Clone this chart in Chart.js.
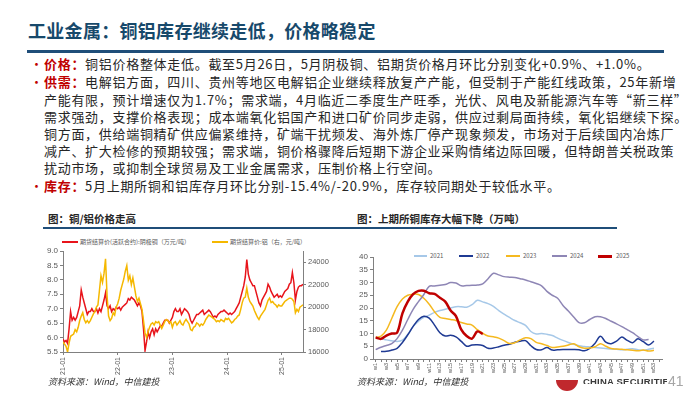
<!DOCTYPE html>
<html lang="zh-CN">
<head>
<meta charset="UTF-8">
<meta name="viewport" content="width=device-width, initial-scale=1.0">
<title>工业金属：铜铝库存继续走低，价格略稳定</title>
<script src="https://cdn.jsdelivr.net/npm/chart.js@4.4.1/dist/chart.umd.min.js"></script>
<style>
  html,body{margin:0;padding:0;background:#fff}
  body{position:relative;width:700px;height:394px;overflow:hidden;font-family:"Noto Sans CJK SC","Noto Sans",sans-serif;color:#262626}
  .abs{position:absolute;white-space:nowrap}
  #title{left:28px;top:17px;font-size:18px;font-weight:bold;color:#17496b;letter-spacing:0.3px}
  #rule{position:absolute;left:27px;top:50px;width:637px;height:3px;background:#1f4e79}
  .ln{position:absolute;left:44px;font-size:13px;line-height:17px;letter-spacing:0.7px;white-space:nowrap}
  .dot{position:absolute;left:30px;color:#c00000;font-size:13px;line-height:17px}
  .lab{color:#c00000;font-weight:bold}
  .ct{position:absolute;top:211px;font-size:10.5px;font-weight:bold;color:#262626;white-space:nowrap;line-height:15px}
  #rule2{position:absolute;left:43px;top:227px;width:574px;height:1.5px;background:#1f4e79}
  .leg{position:absolute;font-size:6px;color:#595959;white-space:nowrap;line-height:8px}
  .sw{position:absolute;height:2px}
  .src{position:absolute;top:375px;font-size:9px;font-style:italic;color:#333;white-space:nowrap;line-height:13px}
  canvas{position:absolute}
  #logo{position:absolute;left:556px;top:380px;width:22px;height:11px;background:#c0282d;border-radius:0 0 11px 11px}
  #brand{position:absolute;left:583px;top:377px;height:7px;overflow:hidden;width:84px}
  #brand span{position:absolute;top:-1px;left:0;font-family:"Liberation Sans",sans-serif;font-weight:bold;font-size:9.5px;color:#3a3a3a;white-space:nowrap;letter-spacing:0.2px}
  #page{position:absolute;left:668px;top:373px;font-family:"Liberation Sans",sans-serif;font-size:14px;color:#a6a6a6}
</style>
</head>
<body>
<div id="title" class="abs">工业金属：铜铝库存继续走低，价格略稳定</div>
<div id="rule"></div>

<div class="dot" style="top:55px">•</div>
<div class="ln" style="top:55px"><span class="lab">价格：</span>铜铝价格整体走低。截至5月26日，5月阴极铜、铝期货价格月环比分别变化+0.9%、+1.0%。</div>
<div class="dot" style="top:73px">•</div>
<div class="ln" style="top:73px"><span class="lab">供需：</span>电解铝方面，四川、贵州等地区电解铝企业继续释放复产产能，但受制于产能红线政策，25年新增</div>
<div class="ln" style="top:91px">产能有限，预计增速仅为1.7%；需求端，4月临近二季度生产旺季，光伏、风电及新能源汽车等“新三样”</div>
<div class="ln" style="top:108px">需求强劲，支撑价格表现；成本端氧化铝国产和进口矿价同步走弱，供应过剩局面持续，氧化铝继续下探。</div>
<div class="ln" style="top:125px">铜方面，供给端铜精矿供应偏紧维持，矿端干扰频发、海外炼厂停产现象频发，市场对于后续国内冶炼厂</div>
<div class="ln" style="top:142px">减产、扩大检修的预期较强；需求端，铜价格骤降后短期下游企业采购情绪边际回暖，但特朗普关税政策</div>
<div class="ln" style="top:159px">扰动市场，或抑制全球贸易及工业金属需求，压制价格上行空间。</div>
<div class="dot" style="top:177px">•</div>
<div class="ln" style="top:177px"><span class="lab">库存：</span>5月上期所铜和铝库存月环比分别-15.4%/-20.9%，库存较同期处于较低水平。</div>

<div class="ct" style="left:48px">图：铜/铝价格走高</div>
<div class="ct" style="left:357px">图：上期所铜库存大幅下降（万吨）</div>
<div id="rule2"></div>

<div class="sw" style="left:62px;top:241px;width:16px;background:#e8141b"></div>
<div class="leg" style="left:80px;top:238px">期货结算价(活跃合约):阴极铜（万元/吨）</div>
<div class="sw" style="left:212px;top:241px;width:16px;background:#f5b800"></div>
<div class="leg" style="left:230px;top:238px">期货结算价:铝（右，元/吨）</div>

<div class="sw" style="left:414px;top:255px;width:13px;background:#a6c8e8"></div>
<div class="leg" style="left:430px;top:252px">2021</div>
<div class="sw" style="left:459px;top:255px;width:14px;background:#1f3a93"></div>
<div class="leg" style="left:476px;top:252px">2022</div>
<div class="sw" style="left:506px;top:255px;width:14px;background:#f5b920"></div>
<div class="leg" style="left:523px;top:252px">2023</div>
<div class="sw" style="left:552px;top:255px;width:15px;background:#8e86b5"></div>
<div class="leg" style="left:570px;top:252px">2024</div>
<div class="sw" style="left:598px;top:254.5px;width:14px;height:3px;background:#c00000"></div>
<div class="leg" style="left:616px;top:252px">2025</div>

<canvas id="priceChart" width="320" height="150" style="left:20px;top:236px;width:320px;height:150px"></canvas>
<canvas id="stockChart" width="340" height="146" style="left:340px;top:240px;width:340px;height:146px"></canvas>

<div class="src" style="left:48px">资料来源：Wind，中信建投</div>
<div class="src" style="left:357px">资料来源：Wind，中信建投</div>
<div id="logo"></div>
<div id="brand"><span>CHINA SECURITIES</span></div>
<div id="page">41</div>

<script>
// month ticks on the price chart (0 = 2021-01)
const yearTicks = [0, 12, 24, 36, 48];
const yearLabels = ['21-01', '22-01', '23-01', '24-01', '25-01'];

// copper, wan yuan/t, three readings per month from 2021-01 to 2025-05
const cuPrice = [
  5.95,5.85,5.9, 5.8,6.3,6.9, 6.6,6.7,6.6, 6.7,6.9,7.1, 7.65,7.4,7.2, 7.0,6.8,6.9,
  6.9,7.0,6.9, 6.9,7.0,6.85, 7.0,6.9,7.1, 7.3,7.55,7.1, 7.0,7.1,6.9, 7.0,6.95,7.05,
  7.0,7.05,6.95, 7.05,7.1,7.15, 7.2,7.35,7.3, 7.4,7.35,7.3, 7.2,7.1,7.2, 7.1,6.9,6.3,
  5.55,5.85,6.2, 6.0,6.2,6.3, 6.1,6.3,6.2, 6.3,6.4,6.4, 6.5,6.6,6.6, 6.6,6.5,6.6,
  6.7,6.9,7.0, 6.9,6.9,7.0, 6.8,6.9,7.0, 6.95,6.9,6.8, 6.6,6.5,6.6, 6.7,6.8,6.8,
  6.85,6.9,6.95, 6.8,6.85,6.9, 6.95,6.9,6.8, 6.7,6.75,6.7, 6.8,6.85,6.9, 6.9,6.95,6.9,
  6.85,6.8,6.85, 6.8,6.85,6.9, 7.0,7.1,7.2, 7.4,7.6,7.8, 8.1,8.7,8.2, 8.0,7.9,7.8,
  7.8,7.6,7.4, 7.2,7.1,7.3, 7.4,7.5,7.6, 7.85,7.75,7.6, 7.5,7.4,7.45, 7.5,7.4,7.45,
  7.4,7.5,7.6, 7.65,7.7,7.85, 7.9,8.25,7.9, 7.3,7.6,7.75, 7.8,7.8,7.85
];
// aluminium, yuan/t, same dates (right axis)
const alPrice = [
  16900,16700,16500, 16000,16800,17400, 17500,17600,18000, 17800,18200,18800, 19200,19500,18900, 18600,18800,18600,
  18800,19100,19400, 19600,20000,20200, 21500,22800,22200, 23000,24300,21000, 19200,18800,19000, 19500,19300,20000,
  20300,20800,21500, 22000,22500,23200, 23700,22400,22800, 22000,22600,21800, 21000,20500,20800, 20300,19800,18800,
  17700,17300,17800, 18200,18500,18600, 18400,18700,18600, 18700,18400,18100, 18400,18700,18900, 18800,18600,18700,
  18200,18600,18700, 18400,18600,18800, 18500,18400,18700, 18900,18700,18500, 18000,17900,18200, 18300,18600,18500,
  18300,18500,18400, 18600,18900,19100, 19300,19200,19100, 19000,18900,18700, 18800,18700,18900, 18800,18700,19000,
  18900,19000,18800, 18600,18700,18900, 19000,19200,19300, 19800,20400,20800, 20900,21700,20900, 20500,20300,20100,
  19700,19400,19100, 18900,19200,19400, 19600,19800,20200, 20600,20800,20400, 20500,20300,20200, 20000,20200,20100,
  20100,20300,20500, 20600,20700,20800, 20800,20700,20500, 19500,19800,19600, 20000,20100,20200
];

// SHFE copper stocks by week, 10k t
const weeks = Array.from({length: 54}, (_, i) => 'w' + (i + 1));
const stock2021 = [8.3,8.0,7.5,7.2,6.9,7.4,9.6,12.8,14.8,16.3,17.2,18.3,19,19.5,20,20.5,20.5,20.3,21.3,23,
  22.4,21.7,20.6,19,17.6,16.3,15.1,14.2,13.2,10.8,9.8,10,9.7,9.2,8.2,7.3,6.5,5.8,5.2,4.9,
  4.7,4.5,4.3,4.1,3.9,3.8,3.6,3.8,4.0,3.6,3.4,3.8,4.2];
const stock2022 = [null,2.9,3.0,3.5,4.2,6.5,9.5,12.8,15.5,16.8,16.0,13.3,10.3,9.0,9.3,8.7,6.9,5.0,5.5,5.6,
  5.3,4.2,4.3,4.8,5.4,5.8,6.6,7.0,7.2,5.2,3.7,3.6,4.5,3.5,3.6,3.7,3.7,3.7,3.6,3.2,
  4.2,6.2,8.9,6.6,6.0,7.0,8.6,7.3,6.4,7.9,6.8,5.5,7.0];
const stock2023 = [8.4,9.0,11.3,15.9,20.5,23.5,25.0,25.4,25.3,23.8,21.5,18.5,16.3,15.9,15.5,15.1,14.3,13.7,13.3,11.5,
  10.1,9.0,8.7,8.2,7.2,6.1,6.4,7.5,8.3,8.0,6.5,6.0,5.3,4.5,4.7,5.0,5.5,6.0,4.8,4.2,
  4.3,4.8,6.0,5.0,4.1,3.9,3.8,3.6,3.4,3.2,3.5,3.1,3.4];
const stock2024 = [3.7,4.6,5.3,6.0,8.0,11.3,15.5,19.5,22.5,25.3,28.5,28.6,28.9,29.2,30.0,29.8,28.7,28.8,28.9,29.0,
  29.5,31.5,33.6,33.0,32.3,32.1,32.0,31.5,31.0,30.3,29.6,28.7,26.5,25.0,23.8,21.0,18.8,16.5,14.3,14.2,
  15.5,16.6,16.6,15.9,14.8,13.8,12.7,11.5,10.3,8.8,7.5,7.6];
const stock2025 = [8.4,7.9,9.2,10.0,10.3,17.9,22.5,25.4,26.7,26.8,25.8,25.5,24.0,22.5,19.0,16.8,11.5,9.0,8.0,10.8,9.8];

const axisFont = {family: 'Liberation Sans', size: 8};
const axisGrey = '#808080';
const labelGrey = '#595959';

Chart.defaults.animation = false;

new Chart(document.getElementById('priceChart'), {
  type: 'line',
  data: {
    datasets: [
      {
        label: '期货结算价:铝（右，元/吨）',
        data: alPrice.map((v, i) => ({x: i / 3, y: v})),
        yAxisID: 'y1',
        borderColor: '#f5b800',
        borderWidth: 1.5,
        pointRadius: 0,
        order: 0
      },
      {
        label: '期货结算价(活跃合约):阴极铜（万元/吨）',
        data: cuPrice.map((v, i) => ({x: i / 3, y: v})),
        yAxisID: 'y',
        borderColor: '#e8141b',
        borderWidth: 1.5,
        pointRadius: 0,
        order: 1
      }
    ]
  },
  options: {
    responsive: false,
    layout: {padding: {top: 15, right: 0, left: 0, bottom: 0}},
    plugins: {legend: {display: false}, tooltip: {enabled: false}},
    scales: {
      x: {
        type: 'linear',
        min: 0,
        max: (cuPrice.length - 1) / 3,
        afterBuildTicks: s => { s.ticks = yearTicks.map(v => ({value: v})); },
        afterFit: s => { s.height = 34; },
        ticks: {
          callback: v => yearLabels[yearTicks.indexOf(v)],
          minRotation: 90, maxRotation: 90,
          font: {family: 'Liberation Sans', size: 7}, color: labelGrey, padding: 2
        },
        grid: {drawOnChartArea: false, tickLength: 3, color: axisGrey},
        border: {color: axisGrey}
      },
      y: {
        position: 'left',
        min: 5.5, max: 9,
        afterFit: s => { s.width = 43; },
        ticks: {stepSize: 0.5, callback: v => v.toFixed(1), font: axisFont, color: labelGrey, padding: 2},
        grid: {drawOnChartArea: false, tickLength: 3, color: axisGrey},
        border: {color: axisGrey}
      },
      y1: {
        position: 'right',
        min: 16000, max: 25000,
        afterFit: s => { s.width = 37; },
        ticks: {stepSize: 1000, callback: v => String(v), font: {family: 'Liberation Sans', size: 7.5}, color: labelGrey, padding: 2},
        grid: {drawOnChartArea: false, tickLength: 3, color: axisGrey},
        border: {color: axisGrey}
      }
    }
  }
});

function yearLine(label, data, color, width, order) {
  return {label, data, borderColor: color, borderWidth: width, pointRadius: 0, tension: 0.35, order, spanGaps: false};
}

new Chart(document.getElementById('stockChart'), {
  type: 'line',
  data: {
    labels: weeks,
    datasets: [
      yearLine('2021', stock2021, '#a6c8e8', 1.5, 4),
      yearLine('2022', stock2022, '#1f3a93', 1.5, 3),
      yearLine('2023', stock2023, '#f5b920', 1.5, 2),
      yearLine('2024', stock2024, '#8e86b5', 1.5, 1),
      yearLine('2025', stock2025, '#c00000', 2.5, 0)
    ]
  },
  options: {
    responsive: false,
    layout: {padding: {top: 17, right: 18, left: 0, bottom: 0}},
    plugins: {legend: {display: false}, tooltip: {enabled: false}},
    scales: {
      x: {
        offset: true,
        afterFit: s => { s.height = 27; },
        ticks: {
          autoSkip: false,
          minRotation: 90, maxRotation: 90,
          font: {family: 'Liberation Sans', size: 5.5}, color: labelGrey, padding: 1,
          callback: function (v, i) { return i % 2 === 0 ? this.getLabelForValue(v) : ''; }
        },
        grid: {drawOnChartArea: false, tickLength: 3, color: axisGrey},
        border: {color: axisGrey}
      },
      y: {
        min: 0, max: 40,
        afterFit: s => { s.width = 33; },
        ticks: {stepSize: 5, font: axisFont, color: labelGrey, padding: 2},
        grid: {drawOnChartArea: false, tickLength: 3, color: axisGrey},
        border: {color: axisGrey}
      }
    }
  }
});
</script>
</body>
</html>
